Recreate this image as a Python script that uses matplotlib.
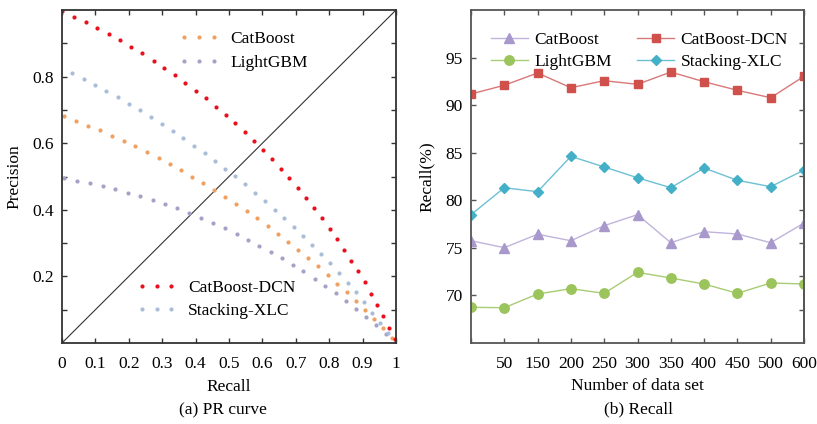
import matplotlib
matplotlib.use("Agg")
import matplotlib.pyplot as plt
import numpy as np

plt.rcParams['font.family'] = ['Liberation Serif', 'DejaVu Serif']
plt.rcParams['font.size'] = 12

# ---------------- (a) PR curve data ----------------
dcn_recall = [0.0, 0.037, 0.072, 0.106, 0.14, 0.174, 0.208, 0.241, 0.274, 0.306, 0.337, 0.369, 0.4,
              0.43, 0.46, 0.49, 0.519, 0.547, 0.575, 0.602, 0.629, 0.656, 0.681, 0.706, 0.73, 0.754,
              0.778, 0.801, 0.823, 0.844, 0.866, 0.886, 0.906, 0.926, 0.944, 0.962, 0.978, 0.996]
dcn_precision = [0.998, 0.98, 0.963, 0.945, 0.928, 0.909, 0.889, 0.87, 0.848, 0.826, 0.804, 0.782, 0.758,
                 0.735, 0.71, 0.685, 0.66, 0.634, 0.607, 0.58, 0.552, 0.524, 0.495, 0.466, 0.436, 0.406,
                 0.375, 0.343, 0.311, 0.28, 0.247, 0.215, 0.182, 0.148, 0.114, 0.08, 0.046, 0.011]

cat_recall = [0.007, 0.043, 0.078, 0.113, 0.15, 0.185, 0.219, 0.254, 0.289, 0.322, 0.356, 0.39, 0.423,
              0.456, 0.489, 0.521, 0.553, 0.585, 0.616, 0.647, 0.678, 0.708, 0.737, 0.767, 0.796, 0.824,
              0.852, 0.88, 0.906, 0.934, 0.96, 0.988]
cat_precision = [0.682, 0.668, 0.653, 0.639, 0.623, 0.607, 0.591, 0.574, 0.557, 0.538, 0.519, 0.5, 0.48,
                 0.46, 0.439, 0.418, 0.396, 0.374, 0.352, 0.328, 0.304, 0.28, 0.256, 0.23, 0.204, 0.178,
                 0.152, 0.126, 0.099, 0.072, 0.044, 0.014]

lgb_recall = [0.007, 0.046, 0.084, 0.123, 0.16, 0.197, 0.234, 0.271, 0.307, 0.344, 0.381, 0.417, 0.453,
              0.489, 0.523, 0.558, 0.591, 0.625, 0.658, 0.691, 0.723, 0.756, 0.788, 0.819, 0.85, 0.881,
              0.911, 0.941, 0.97, 0.999]
lgb_precision = [0.495, 0.487, 0.48, 0.472, 0.462, 0.451, 0.44, 0.43, 0.416, 0.404, 0.39, 0.376, 0.36,
                 0.344, 0.328, 0.31, 0.292, 0.274, 0.255, 0.235, 0.216, 0.193, 0.172, 0.149, 0.126, 0.103,
                 0.079, 0.054, 0.028, 0.0]

stk_recall = [0.03, 0.065, 0.099, 0.133, 0.167, 0.201, 0.234, 0.267, 0.299, 0.331, 0.363, 0.395, 0.427,
              0.459, 0.489, 0.519, 0.548, 0.578, 0.608, 0.638, 0.666, 0.694, 0.721, 0.749, 0.776, 0.803,
              0.829, 0.855, 0.88, 0.905, 0.928, 0.953, 0.976, 0.996]
stk_precision = [0.81, 0.792, 0.775, 0.757, 0.738, 0.719, 0.699, 0.679, 0.658, 0.637, 0.615, 0.592, 0.57,
                 0.547, 0.524, 0.501, 0.476, 0.451, 0.426, 0.4, 0.375, 0.348, 0.322, 0.295, 0.268, 0.24,
                 0.21, 0.181, 0.152, 0.122, 0.091, 0.061, 0.03, 0.003]

# ---------------- (b) Recall data ----------------
data_sizes = ['', '50', '150', '200', '250', '300', '350', '400', '450', '500', '600']
recall_catboost = [75.75, 75.02, 76.43, 75.75, 77.33, 78.49, 75.54, 76.7, 76.46, 75.54, 77.61]
recall_lightgbm = [68.75, 68.71, 70.15, 70.71, 70.22, 72.43, 71.83, 71.2, 70.22, 71.31, 71.2]
recall_dcn = [91.17, 92.09, 93.38, 91.83, 92.57, 92.19, 93.48, 92.46, 91.56, 90.78, 93.03]
recall_stacking = [78.49, 81.32, 80.9, 84.62, 83.5, 82.37, 81.32, 83.39, 82.1, 81.43, 83.18]

W, H = 817, 424
fig = plt.figure(figsize=(W / 100, H / 100), dpi=100)

def ax_rect(x0, y0, x1, y1):
    return [x0 / W, 1 - y1 / H, (x1 - x0) / W, (y1 - y0) / H]

# ---------------- left plot ----------------
ax1 = fig.add_axes(ax_rect(62, 10, 396, 343))
red = '#e8101c'
orange = '#f0a060'
lgb_c = '#a4a2c6'
stk_c = '#a9bcd8'
ms = 3.0
ax1.plot([0, 1], [0, 1], color='#333333', lw=0.8, zorder=1)
p_cat, = ax1.plot(cat_recall, cat_precision, 'o', color=orange, ms=ms, mew=0, label='CatBoost')
p_lgb, = ax1.plot(lgb_recall, lgb_precision, 'o', color=lgb_c, ms=ms, mew=0, label='LightGBM')
p_stk, = ax1.plot(stk_recall, stk_precision, 'o', color=stk_c, ms=ms, mew=0, label='Stacking-XLC')
p_dcn, = ax1.plot(dcn_recall, dcn_precision, 'o', color=red, ms=ms, mew=0, label='CatBoost-DCN')
ax1.set_xlim(0, 1)
ax1.set_ylim(0, 1)
ax1.set_xticks(np.arange(0, 1.01, 0.1))
ax1.set_xticklabels(['0', '0.1', '0.2', '0.3', '0.4', '0.5', '0.6', '0.7', '0.8', '0.9', '1'])
ax1.set_yticks([0.2, 0.4, 0.6, 0.8])
ax1.set_yticklabels(['0.2', '0.4', '0.6', '0.8'])
ax1.set_yticks([0.1, 0.3, 0.5, 0.7, 0.9], minor=True)
ax1.tick_params(which='both', direction='in', top=True, right=True, length=3.8, width=1.0,
                color='#333333', labelsize=12.5, pad=6)
ax1.tick_params(axis='x', pad=9.5)
for s in ax1.spines.values():
    s.set_linewidth(1.3)
    s.set_color('#333333')
ax1.set_xlabel('Recall', fontsize=12.5)
ax1.xaxis.set_label_coords(0.5, -0.108)
ax1.set_ylabel('Precision', fontsize=12.5)
ax1.yaxis.set_label_coords(-0.117, 0.5)

leg1 = ax1.legend(handles=[p_cat, p_lgb], loc='upper left', bbox_to_anchor=(0.33, 0.958),
                  frameon=False, numpoints=3, handlelength=2.3, handletextpad=0.65,
                  labelspacing=0.45, fontsize=12.5, borderaxespad=0)
ax1.add_artist(leg1)
ax1.legend(handles=[p_dcn, p_stk], loc='upper left', bbox_to_anchor=(0.203, 0.21),
           frameon=False, numpoints=3, handlelength=2.3, handletextpad=0.65,
           labelspacing=0.4, fontsize=12.5, borderaxespad=0)

fig.text(223 / W, 1 - 410 / H, '(a) PR curve', ha='center', va='center', fontsize=12.5)

# ---------------- right plot ----------------
ax2 = fig.add_axes(ax_rect(471, 10, 804, 343))
x = np.arange(len(data_sizes))
ax2.plot(x, recall_catboost, '-', color='#c0b4dc', lw=1.0, marker='^', ms=6.5,
         mfc='#a898cc', mec='#a898cc', label='CatBoost')
ax2.plot(x, recall_lightgbm, '-', color='#a8cc74', lw=1.0, marker='o', ms=6.8,
         mfc='#9cc45c', mec='#9cc45c', label='LightGBM')
ax2.plot(x, recall_dcn, '-', color='#d87878', lw=1.0, marker='s', ms=5.8,
         mfc='#d0504c', mec='#d0504c', label='CatBoost-DCN')
ax2.plot(x, recall_stacking, '-', color='#6cc0d4', lw=1.0, marker='D', ms=4.8,
         mfc='#44b0c8', mec='#44b0c8', label='Stacking-XLC')
ax2.set_xlim(0, 10)
ax2.set_ylim(65, 100)
ax2.set_xticks(x)
ax2.set_xticklabels(data_sizes)
ax2.set_yticks([70, 75, 80, 85, 90, 95])
ax2.tick_params(direction='in', top=True, right=False, length=3.8, width=1.0,
                color='#555555', labelsize=12.5, pad=6)
ax2.tick_params(axis='x', pad=9.5)
for s in ax2.spines.values():
    s.set_linewidth(1.3)
    s.set_color('#555555')
sec = ax2.secondary_yaxis('right')
sec.set_yticks([65 + 3.5 * k for k in range(1, 10)])
sec.set_yticklabels([])
sec.tick_params(direction='in', length=3.8, width=1.0, color='#555555')
sec.spines['right'].set_linewidth(1.3)
sec.spines['right'].set_color('#555555')
ax2.set_xlabel('Number of data set', fontsize=12.5)
ax2.xaxis.set_label_coords(0.5, -0.105)
ax2.set_ylabel('Recall(%)', fontsize=12.5)
ax2.yaxis.set_label_coords(-0.108, 0.5)
ax2.legend(loc='upper left', bbox_to_anchor=(0.04, 0.955), ncol=2, frameon=False,
           handlelength=2.1, handletextpad=0.4, columnspacing=1.45, labelspacing=0.35,
           fontsize=12.5, borderaxespad=0)

fig.text(638 / W, 1 - 409 / H, '(b) Recall', ha='center', va='center', fontsize=12.5)

fig.savefig('out.png', dpi=100)
